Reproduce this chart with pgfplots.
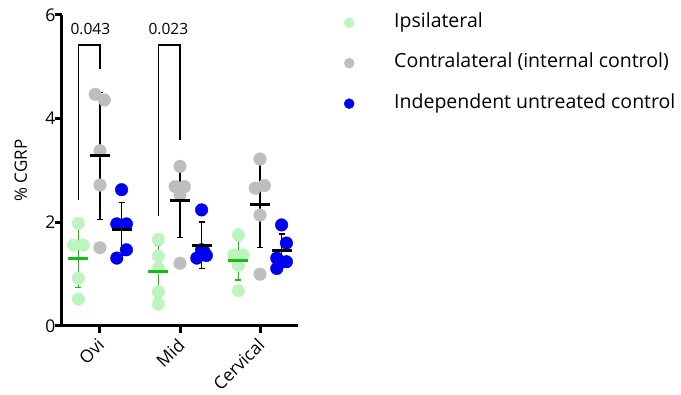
\documentclass[border=0pt]{standalone}
\usepackage{pgfplots}
\pgfplotsset{compat=1.18}
\usepackage{fontspec}
\setmainfont{Open Sans}
\definecolor{lgreen}{RGB}{190,245,190}
\definecolor{dgreen}{RGB}{20,190,20}
\definecolor{pgrey}{RGB}{190,190,190}
\definecolor{pblue}{RGB}{0,0,240}
\begin{document}
\begin{tikzpicture}[x=1pt,y=1pt]
\path[use as bounding box] (-62,-69) rectangle (619,326);
\begin{axis}[
  at={(0,0)}, anchor=south west,
  scale only axis, width=236pt, height=311pt,
  xmin=-0.475, xmax=2.475, ymin=0, ymax=6,
  axis x line*=bottom, axis y line*=left,
  axis line style={line width=3pt, -},
  xtick={0,1,2}, xticklabels={Ovi,Mid,Cervical},
  x tick label style={rotate=45, anchor=north east, xshift=-2pt, yshift=3pt, font=\fontsize{17.5}{20}\selectfont},
  ytick={0,2,4,6},
  y tick label style={xshift=4pt, font=\fontsize{17.5}{20}\selectfont},
  tick align=outside, major tick length=7pt,
  tick style={line width=3pt, black},
  ylabel={\% CGRP},
  every axis y label/.style={at={(axis description cs:-0.175,0.5)}, rotate=90, anchor=center, font=\fontsize{17}{20}\selectfont},
  /pgf/number format/assume math mode=true,
  clip=false,
  legend style={at={(axis description cs:1.1737,1.0065)}, anchor=north west, draw=none, fill=none,
    inner xsep=0pt, inner ysep=0pt,
    nodes={inner sep=0pt, text height=14pt, text depth=5pt},
    font=\fontsize{19.5}{22}\selectfont, row sep=21.5pt},
  legend cell align=left,
  legend image code/.code={\path[draw=none, fill=none] (0pt,-6pt) rectangle (55pt,6pt); \draw[#1,mark size=5pt] plot coordinates {(10pt,0pt)};},
]
% scatter points
\addplot[only marks, mark=*, mark size=6.3pt, color=lgreen, mark options={draw=lgreen, fill=lgreen}] coordinates {
 (-0.27,1.98) (-0.33,1.56) (-0.21,1.56) (-0.27,0.92) (-0.27,0.52)
 (0.73,1.67) (0.73,1.35) (0.73,1.12) (0.73,0.66) (0.73,0.42)
 (1.73,1.76) (1.67,1.37) (1.79,1.37) (1.73,1.17) (1.73,0.68)
};
\addlegendentry{Ipsilateral}
\addplot[only marks, mark=*, mark size=6.3pt, color=pgrey, mark options={draw=pgrey, fill=pgrey}] coordinates {
 (-0.06,4.47) (0.055,4.36) (0,3.38) (0,2.72) (0,1.51)
 (1,3.08) (0.94,2.69) (1.055,2.69) (1,2.53) (1,1.21)
 (2,3.22) (1.94,2.66) (2.055,2.71) (2,2.14) (2,1.00)
};
\addlegendentry{Contralateral (internal control)}
\addplot[only marks, mark=*, mark size=6.3pt, color=pblue, mark options={draw=pblue, fill=pblue}] coordinates {
 (0.27,2.63) (0.21,1.97) (0.33,1.97) (0.33,1.47) (0.21,1.31)
 (1.27,2.24) (1.27,1.47) (1.30,1.43) (1.21,1.31) (1.33,1.36)
 (2.27,1.95) (2.33,1.60) (2.21,1.31) (2.33,1.24) (2.21,1.11)
};
\addlegendentry{Independent untreated control}
% means and SD
\addplot[forget plot, only marks, mark=-, mark size=10pt, mark options={line width=3pt, dgreen},
  error bars/.cd, y dir=both, y explicit, error bar style={line width=1.7pt, dgreen},
  error mark options={rotate=90, mark size=3pt, line width=1.7pt, dgreen}] coordinates {
 (-0.27,1.31) +- (0,0.57)
 (0.73,1.05) +- (0,0.51)
 (1.73,1.27) +- (0,0.385)
};
\addplot[forget plot, only marks, mark=-, mark size=10pt, mark options={line width=3pt, black},
  error bars/.cd, y dir=both, y explicit, error bar style={line width=1.7pt, black},
  error mark options={rotate=90, mark size=3pt, line width=1.7pt, black}] coordinates {
 (0,3.28) +- (0,1.225)
 (1,2.42) +- (0,0.715)
 (2,2.35) +- (0,0.835)
 (0.27,1.87) +- (0,0.51)
 (1.27,1.56) +- (0,0.45)
 (2.27,1.45) +- (0,0.32)
};
% significance brackets
\addplot[forget plot, black, line width=1.7pt] coordinates {(-0.27,2.43) (-0.27,5.42) (0,5.42) (0,4.96)};
\addplot[forget plot, black, line width=1.7pt] coordinates {(0.73,2.13) (0.73,5.42) (1,5.42) (1,3.59)};
\node[font=\fontsize{15.5}{18}\selectfont] at (axis cs:-0.12,5.73) {0.043};
\node[font=\fontsize{15.5}{18}\selectfont] at (axis cs:0.855,5.73) {0.023};
\end{axis}
\end{tikzpicture}
\end{document}
